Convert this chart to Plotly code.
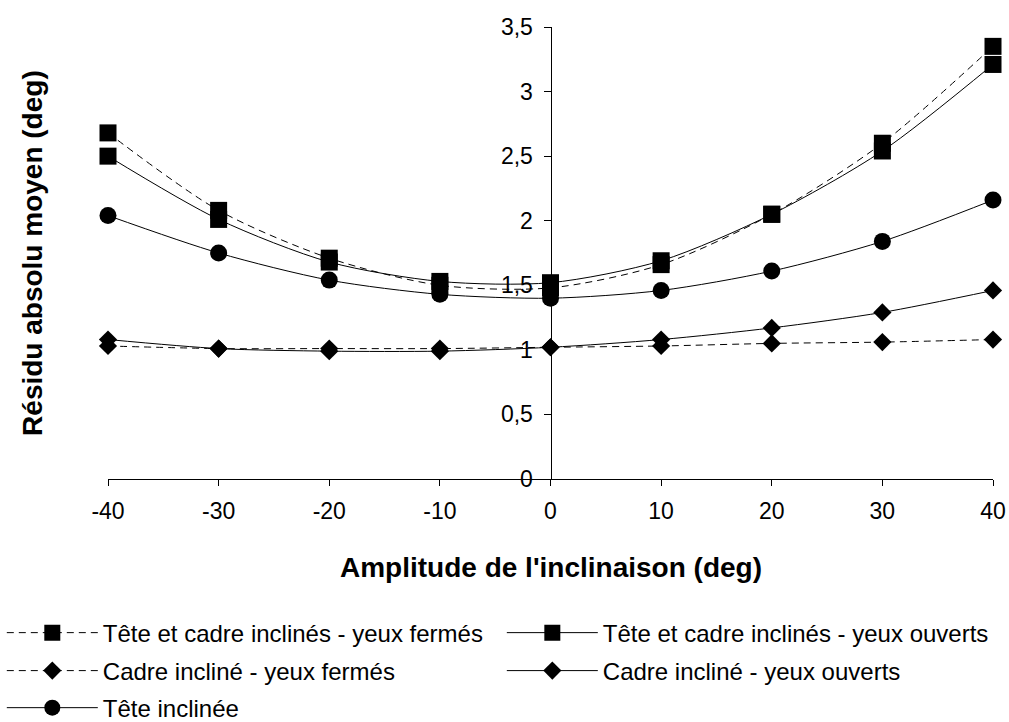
import plotly.graph_objects as go

amplitude = [-40, -30, -20, -10, 0, 10, 20, 30, 40]
tete_cadre_fermes = [2.68, 2.08, 1.71, 1.50, 1.48, 1.66, 2.05, 2.60, 3.35]
tete_cadre_ouverts = [2.50, 2.01, 1.68, 1.53, 1.52, 1.69, 2.05, 2.54, 3.21]
cadre_fermes = [1.03, 1.01, 1.01, 1.01, 1.02, 1.03, 1.05, 1.06, 1.08]
cadre_ouverts = [1.08, 1.01, 0.99, 0.99, 1.02, 1.08, 1.17, 1.29, 1.46]
tete_inclinee = [2.04, 1.75, 1.54, 1.43, 1.40, 1.46, 1.61, 1.84, 2.16]

series_names = [
    "Tête et cadre inclinés - yeux fermés",
    "Tête et cadre inclinés - yeux ouverts",
    "Cadre incliné - yeux fermés",
    "Cadre incliné - yeux ouverts",
    "Tête inclinée",
]
x_tickvals = [-40, -30, -20, -10, 0, 10, 20, 30, 40]
x_ticktext = ["-40", "-30", "-20", "-10", "0", "10", "20", "30", "40"]
y_tickvals = [0, 0.5, 1, 1.5, 2, 2.5, 3, 3.5]
y_ticktext = ["0", "0,5", "1", "1,5", "2", "2,5", "3", "3,5"]
x_title = "Amplitude de l'inclinaison (deg)"
y_title = "Résidu absolu moyen (deg)"

FONT = "Liberation Sans, Arial, sans-serif"

# (values, symbol, size, dash, legend slot)
specs = [
    (tete_cadre_fermes, "square", 17, "7px,5px", "legend"),
    (tete_cadre_ouverts, "square", 17, "solid", "legend2"),
    (cadre_fermes, "diamond", 14, "7px,5px", "legend3"),
    (cadre_ouverts, "diamond", 14, "solid", "legend4"),
    (tete_inclinee, "circle", 17, "solid", "legend5"),
]

fig = go.Figure()
for name, (vals, sym, size, dash, leg) in zip(series_names, specs):
    fig.add_trace(go.Scatter(
        x=amplitude, y=vals, name=name, mode="lines+markers",
        line=dict(color="black", width=1, dash=dash, shape="spline", smoothing=0.8),
        marker=dict(symbol=sym, size=size, color="black", line=dict(width=0)),
        cliponaxis=False, legend=leg,
    ))

def legend_at(x, y):
    return dict(
        orientation="v", x=x, y=y, xanchor="left", yanchor="top",
        font=dict(family=FONT, size=24, color="black"),
        itemwidth=91, bgcolor="rgba(0,0,0,0)",
    )

col1, col2 = -0.12, 0.445
row1, row2, row3 = -0.291, -0.375, -0.457

fig.update_layout(
    width=1009, height=722,
    margin=dict(l=108, r=16, t=27, b=243, autoexpand=False),
    paper_bgcolor="white", plot_bgcolor="white",
    font=dict(family=FONT, size=23, color="black"),
    showlegend=True,
    legend=legend_at(col1, row1),
    legend2=legend_at(col2, row1),
    legend3=legend_at(col1, row2),
    legend4=legend_at(col2, row2),
    legend5=legend_at(col1, row3),
    xaxis=dict(
        range=[-40, 40], tickvals=x_tickvals, ticktext=x_ticktext,
        showgrid=False, zeroline=False,
        showline=True, linecolor="black", linewidth=1,
        ticks="outside", ticklen=6, tickcolor="black",
        ticklabelstandoff=5,
        tickfont=dict(size=23), fixedrange=True,
    ),
    yaxis=dict(
        range=[0, 3.5], tickvals=y_tickvals, ticktext=y_ticktext,
        showgrid=False, zeroline=False,
        showline=True, linecolor="black", linewidth=1,
        ticks="outside", ticklen=7, tickcolor="black",
        ticklabelstandoff=6,
        anchor="free", position=0.5,
        tickfont=dict(size=23), fixedrange=True,
    ),
    annotations=[
        dict(text="<b>" + x_title + "</b>", xref="paper", yref="paper",
             x=0.5, y=-0.195, xanchor="center", yanchor="middle",
             showarrow=False, font=dict(size=28)),
        dict(text="<b>" + y_title + "</b>", xref="paper", yref="paper",
             x=-0.086, y=0.5, xanchor="center", yanchor="middle", textangle=-90,
             showarrow=False, font=dict(size=28)),
    ],
)

fig.write_html(
    "out.html",
    config={"displayModeBar": False},
    post_script="document.body.style.margin='0';document.body.style.overflow='hidden';",
)
